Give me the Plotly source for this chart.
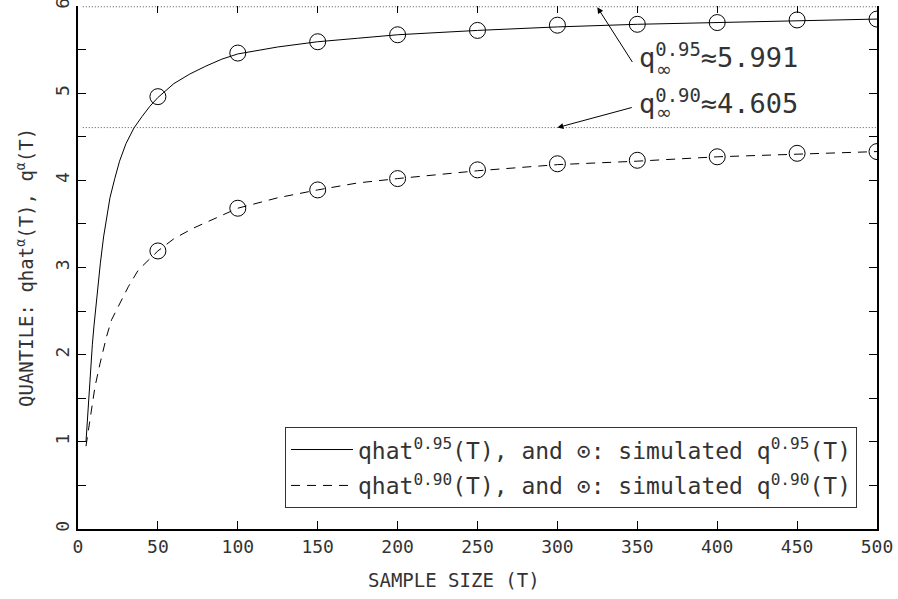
import plotly.graph_objects as go

# --- data ---
T_curve95 = [5, 6, 7, 8, 9, 10, 12, 14, 16, 18, 20, 23, 26, 30, 35, 40, 45, 50, 60, 70, 80, 90,
             100, 125, 150, 175, 200, 250, 300, 350, 400, 450, 500]
qhat95 = [1.0, 1.3, 1.6, 1.88, 2.12, 2.33, 2.72, 3.05, 3.35, 3.6, 3.8, 4.02, 4.22, 4.42, 4.6, 4.73,
          4.85, 4.95, 5.11, 5.22, 5.31, 5.39, 5.45, 5.53, 5.59, 5.63, 5.67, 5.72, 5.76, 5.79, 5.81,
          5.83, 5.85]
T_curve90 = [5, 6.5, 8.6, 10.6, 13.8, 17.9, 21, 25, 31.5, 37.7, 50, 60, 72, 100, 125, 150, 175, 200,
             250, 300, 350, 400, 450, 500]
qhat90 = [0.95, 1.14, 1.40, 1.63, 1.90, 2.21, 2.40, 2.55, 2.78, 2.97, 3.19, 3.33, 3.45, 3.68, 3.80,
          3.89, 3.97, 4.02, 4.11, 4.18, 4.22, 4.27, 4.30, 4.33]

T_sim = [50, 100, 150, 200, 250, 300, 350, 400, 450, 500]
sim95 = [4.96, 5.46, 5.59, 5.67, 5.72, 5.78, 5.79, 5.81, 5.84, 5.85]
sim90 = [3.19, 3.68, 3.89, 4.02, 4.12, 4.19, 4.23, 4.27, 4.31, 4.33]

q_inf95 = 5.991
q_inf90 = 4.605
ref_T = [3, 500]

x_ticks = [0, 50, 100, 150, 200, 250, 300, 350, 400, 450, 500]
y_ticks = [0, 1, 2, 3, 4, 5, 6]

FONT = "DejaVu Sans Mono"
TXT = "#333333"

fig = go.Figure()

# reference (asymptotic) dotted lines
for qv in (q_inf95, q_inf90):
    fig.add_trace(go.Scatter(x=ref_T, y=[qv, qv], mode="lines",
                             line=dict(color="#555555", width=1, dash="1px,2px"),
                             showlegend=False, hoverinfo="skip"))

fig.add_trace(go.Scatter(x=T_curve95, y=qhat95, mode="lines", line=dict(color="black", width=1),
                         legendgroup="a",
                         name="qhat<sup>0.95</sup>(T), and ⊙: simulated q<sup>0.95</sup>(T)"))
fig.add_trace(go.Scatter(x=T_curve90, y=qhat90, mode="lines",
                         line=dict(color="black", width=1, dash="9px,7px"), legendgroup="b",
                         name="qhat<sup>0.90</sup>(T), and ⊙: simulated q<sup>0.90</sup>(T)"))

marker = dict(symbol="circle-open", size=16, color="black", line=dict(width=1, color="black"))
fig.add_trace(go.Scatter(x=T_sim, y=sim95, mode="markers", marker=marker, showlegend=False))
fig.add_trace(go.Scatter(x=T_sim, y=sim90, mode="markers", marker=marker, showlegend=False))

# invisible trace for top tick axis
fig.add_trace(go.Scatter(x=[0, 500], y=[0, 0], xaxis="x2", mode="markers",
                         marker=dict(opacity=0), showlegend=False, hoverinfo="skip"))

# arrows
fig.add_annotation(x=325, y=5.985, ax=347.5, ay=5.34, axref="x", ayref="y", xref="x", yref="y",
                   text="", showarrow=True, arrowhead=2, arrowsize=1.2, arrowwidth=1,
                   arrowcolor="black")
fig.add_annotation(x=300, y=4.605, ax=347.5, ay=4.84, axref="x", ayref="y", xref="x", yref="y",
                   text="", showarrow=True, arrowhead=2, arrowsize=1.2, arrowwidth=1,
                   arrowcolor="black")

# labels
fig.add_annotation(x=349.5, y=5.43, xref="x", yref="y", xanchor="left", yanchor="middle",
                   text="q<sup>0.95</sup>≈5.991", showarrow=False,
                   font=dict(family=FONT, size=27, color=TXT))
fig.add_annotation(x=349.5, y=4.90, xref="x", yref="y", xanchor="left", yanchor="middle",
                   text="q<sup>0.90</sup>≈4.605", showarrow=False,
                   font=dict(family=FONT, size=27, color=TXT))
fig.add_annotation(x=366.5, y=5.275, xref="x", yref="y", xanchor="center", yanchor="middle",
                   text="∞", showarrow=False, font=dict(family="DejaVu Sans", size=19, color=TXT))
fig.add_annotation(x=366.5, y=4.78, xref="x", yref="y", xanchor="center", yanchor="middle",
                   text="∞", showarrow=False, font=dict(family="DejaVu Sans", size=19, color=TXT))

# axis titles
fig.add_annotation(x=0.4706, y=-0.0975, xref="paper", yref="paper", xanchor="center",
                   yanchor="middle", text="SAMPLE SIZE (T)", showarrow=False,
                   font=dict(family=FONT, size=19, color=TXT))
fig.add_annotation(x=-0.067, y=0.50, xref="paper", yref="paper", xanchor="center",
                   yanchor="middle", textangle=-90,
                   text="QUANTILE: qhat<sup>α</sup>(T), q<sup>α</sup>(T)", showarrow=False,
                   font=dict(family=FONT, size=19, color=TXT))

fig.update_layout(
    template="none",
    width=898, height=599,
    margin=dict(l=78, r=21, t=6, b=70),
    paper_bgcolor="white", plot_bgcolor="white",
    font=dict(family=FONT, size=18, color=TXT),
    xaxis=dict(range=[0, 500], tickvals=x_ticks, ticktext=[str(v) for v in x_ticks],
               ticks="inside", ticklen=8, tickcolor="black", showline=True, linecolor="black",
               linewidth=2, showgrid=False, zeroline=False, automargin=False,
               ticklabeloverflow="allow", tickfont=dict(size=18)),
    xaxis2=dict(range=[0, 500], overlaying="x", side="top", anchor="y", tickvals=x_ticks,
                showticklabels=False, ticks="inside", ticklen=7, tickcolor="black",
                showline=False, showgrid=False, zeroline=False, automargin=False),
    yaxis=dict(range=[0, 6], tickvals=y_ticks, ticktext=[str(v) for v in y_ticks],
               tickangle=-90, ticks="inside", ticklen=8, tickcolor="black",
               minor=dict(dtick=0.5, ticks="inside", ticklen=6, tickcolor="black"),
               showline=True, linecolor="black", linewidth=2, mirror="allticks",
               showgrid=False, zeroline=False, automargin=False,
               ticklabeloverflow="allow", tickfont=dict(size=18)),
    legend=dict(x=0.975, y=0.04, xanchor="right", yanchor="bottom",
                bordercolor="#333333", borderwidth=1, bgcolor="white",
                font=dict(family=FONT, size=23, color=TXT), itemwidth=62,
                tracegroupgap=3),
    showlegend=True,
)

fig.write_html("out.html", config={"displayModeBar": False},
               post_script="document.body.style.margin='0';")
